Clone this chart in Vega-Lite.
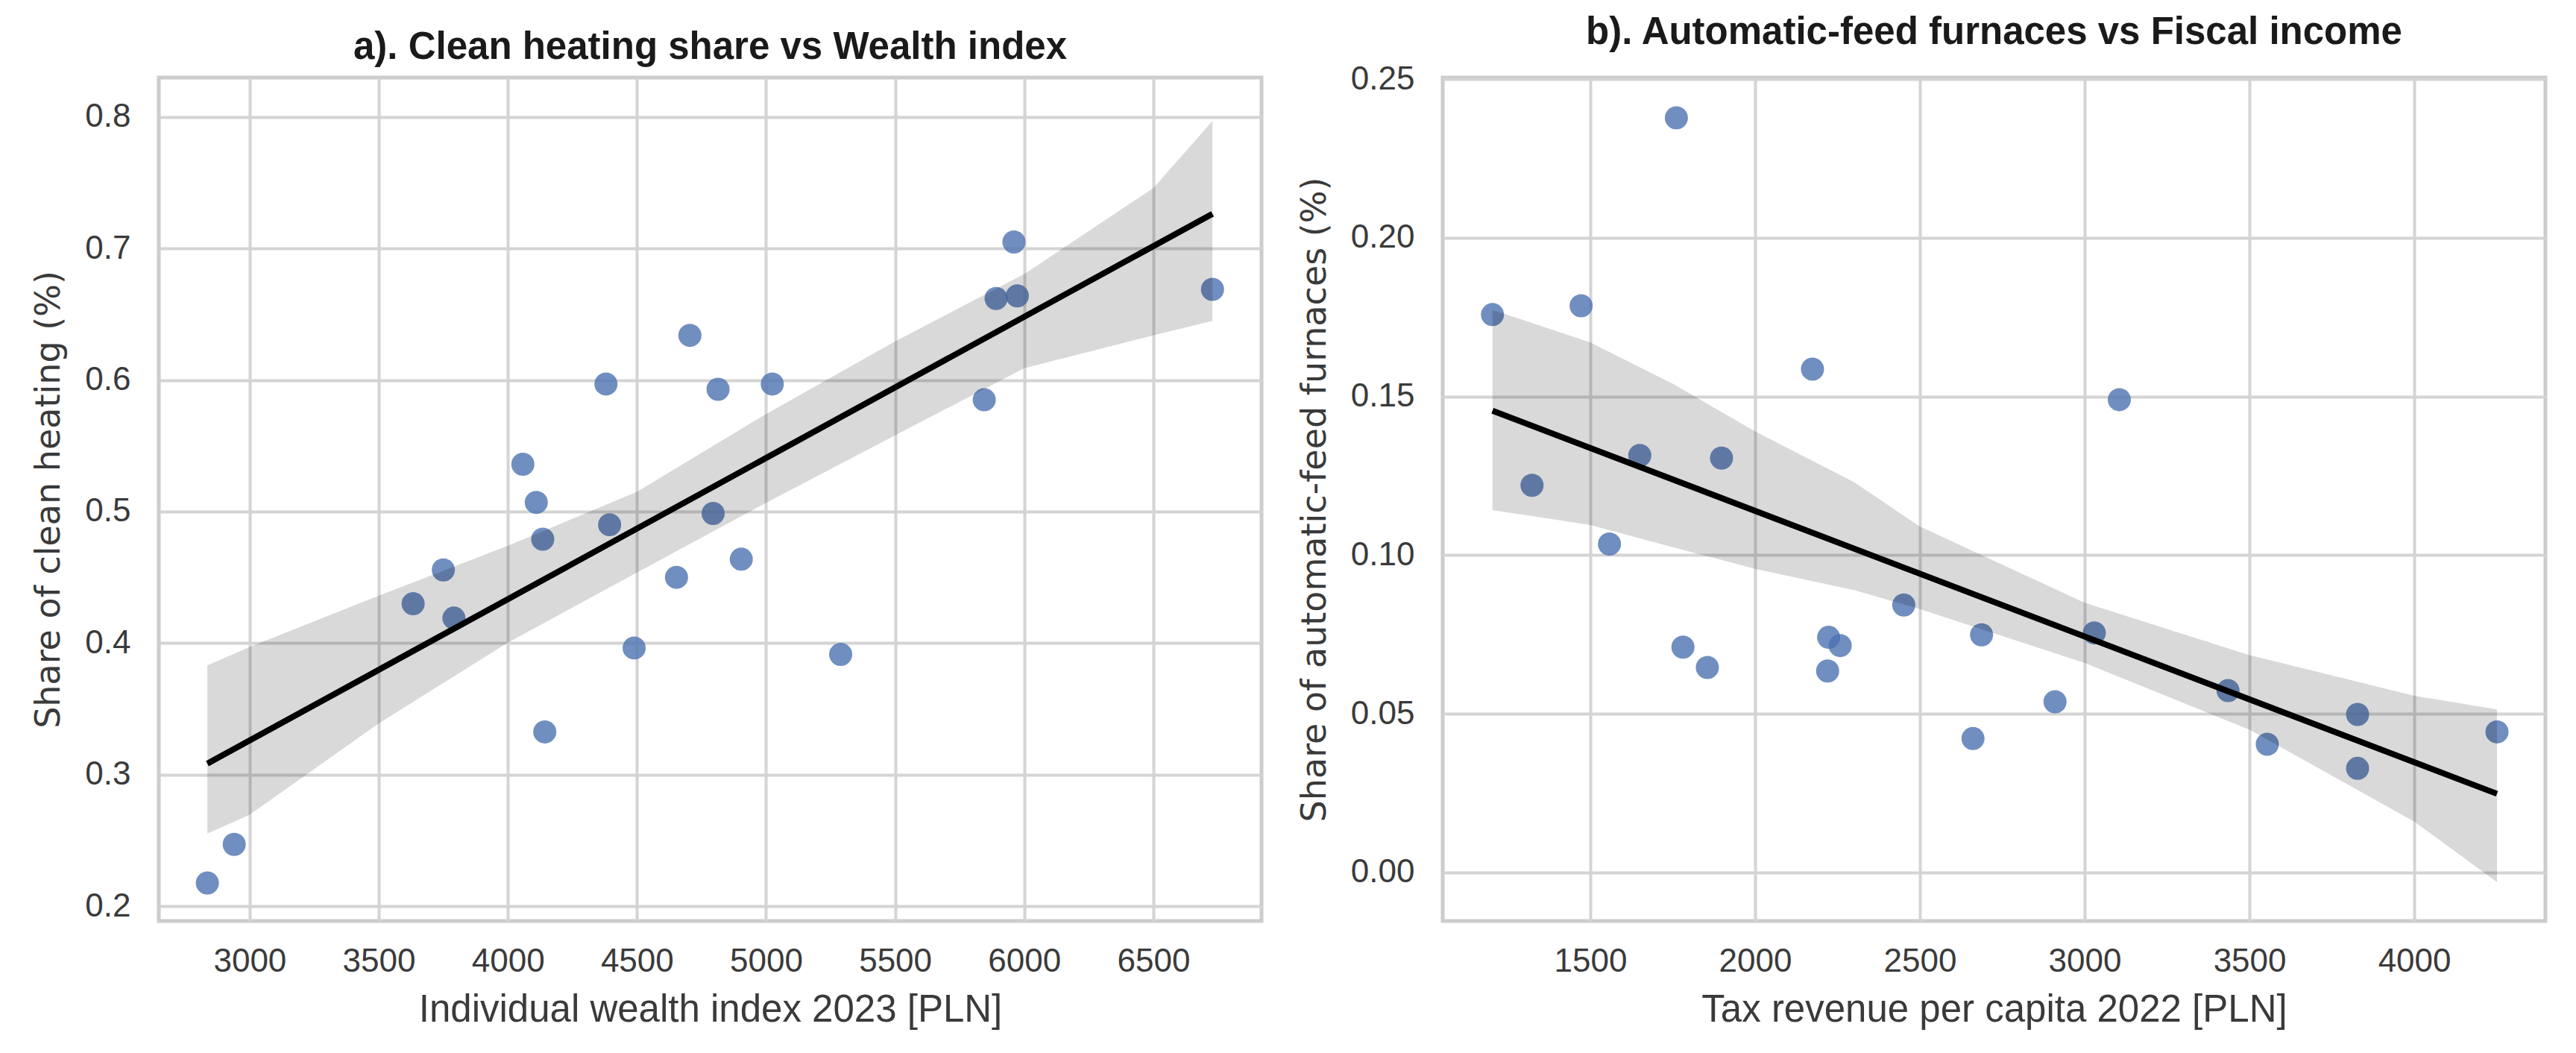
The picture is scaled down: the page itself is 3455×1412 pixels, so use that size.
{
  "$schema": "https://vega.github.io/schema/vega-lite/v6.json",
  "background": "white",
  "padding": {"left": 40, "top": 15, "right": 0, "bottom": 0},
  "spacing": 243,
  "bounds": "flush",
  "config": {
    "view": {"stroke": "#cccccc", "strokeWidth": 5},
    "axis": {"grid": true, "gridColor": "#d4d4d4", "gridWidth": 4, "domain": false, "ticks": false, "tickSize": 0, "labelFont": "Liberation Sans", "labelFontSize": 44, "labelColor": "#3a3a3a", "titleFontWeight": "normal", "titleColor": "#3a3a3a"},
    "axisX": {"labelPadding": 32, "titleFont": "Liberation Sans", "titleFontSize": 51, "titlePadding": 18},
    "axisY": {"labelPadding": 38, "titleFont": "DejaVu Sans", "titleFontSize": 46, "titlePadding": 24},
    "title": {"font": "Liberation Sans", "fontSize": 51, "fontWeight": "bold", "color": "#1a1a1a", "offset": 14}
  },
  "datasets": {
    "a_points": [
      {"x": 5960, "y": 0.705}, {"x": 5891, "y": 0.662}, {"x": 5973, "y": 0.664}, {"x": 6729, "y": 0.669},
      {"x": 4705, "y": 0.634}, {"x": 4380, "y": 0.597}, {"x": 4814, "y": 0.593}, {"x": 5024, "y": 0.597},
      {"x": 5845, "y": 0.585}, {"x": 4058, "y": 0.536}, {"x": 4110, "y": 0.507}, {"x": 4795, "y": 0.4986},
      {"x": 4394, "y": 0.490}, {"x": 4135, "y": 0.479}, {"x": 3750, "y": 0.4556}, {"x": 3633, "y": 0.430},
      {"x": 3791, "y": 0.419}, {"x": 4904, "y": 0.4638}, {"x": 4653, "y": 0.450}, {"x": 4489, "y": 0.3963},
      {"x": 5289, "y": 0.3914}, {"x": 4143, "y": 0.3325}, {"x": 2940, "y": 0.247}, {"x": 2836, "y": 0.2176}
    ],
    "a_fit": [{"x": 2836, "y": 0.3084}, {"x": 6729, "y": 0.7264}],
    "a_band": [
      {"x": 2836, "lo": 0.2552, "hi": 0.383},
      {"x": 3000, "lo": 0.2695, "hi": 0.3971},
      {"x": 3500, "lo": 0.339, "hi": 0.436},
      {"x": 4000, "lo": 0.4004, "hi": 0.474},
      {"x": 4500, "lo": 0.4536, "hi": 0.515},
      {"x": 5000, "lo": 0.5067, "hi": 0.5742},
      {"x": 5500, "lo": 0.558, "hi": 0.6294},
      {"x": 6000, "lo": 0.609, "hi": 0.6806},
      {"x": 6500, "lo": 0.634, "hi": 0.746},
      {"x": 6729, "lo": 0.645, "hi": 0.797}
    ],
    "b_points": [
      {"x": 1761, "y": 0.2378}, {"x": 1203, "y": 0.1758}, {"x": 1472, "y": 0.1786}, {"x": 2174, "y": 0.1586},
      {"x": 3105, "y": 0.149}, {"x": 1650, "y": 0.1314}, {"x": 1898, "y": 0.1306}, {"x": 1323, "y": 0.122},
      {"x": 1558, "y": 0.1035}, {"x": 2451, "y": 0.0843}, {"x": 1781, "y": 0.071}, {"x": 1855, "y": 0.0646},
      {"x": 2223, "y": 0.0741}, {"x": 2258, "y": 0.0715}, {"x": 2220, "y": 0.0635}, {"x": 2687, "y": 0.0749},
      {"x": 3029, "y": 0.0755}, {"x": 2910, "y": 0.0538}, {"x": 2661, "y": 0.0422}, {"x": 3435, "y": 0.0573},
      {"x": 3554, "y": 0.0404}, {"x": 3828, "y": 0.0498}, {"x": 3828, "y": 0.0328}, {"x": 4251, "y": 0.0443}
    ],
    "b_fit": [{"x": 1203, "y": 0.1455}, {"x": 4251, "y": 0.0248}],
    "b_band": [
      {"x": 1203, "lo": 0.1142, "hi": 0.1773},
      {"x": 1500, "lo": 0.1095, "hi": 0.167},
      {"x": 1750, "lo": 0.1025, "hi": 0.154},
      {"x": 2000, "lo": 0.0957, "hi": 0.139},
      {"x": 2300, "lo": 0.089, "hi": 0.123},
      {"x": 2500, "lo": 0.083, "hi": 0.109},
      {"x": 3000, "lo": 0.066, "hi": 0.085},
      {"x": 3500, "lo": 0.045, "hi": 0.0685},
      {"x": 4000, "lo": 0.016, "hi": 0.0557},
      {"x": 4251, "lo": -0.003, "hi": 0.0514}
    ]
  },
  "hconcat": [
    {
      "width": 1479,
      "height": 1131,
      "title": {"text": "a). Clean heating share vs Wealth index"},
      "layer": [
        {
          "data": {"name": "a_points"},
          "mark": {"type": "circle", "size": 960, "opacity": 0.8, "color": "#4C72B0"},
          "encoding": {
            "x": {"field": "x", "type": "quantitative", "title": "Individual wealth index 2023 [PLN]",
                  "scale": {"domain": [2648, 6919], "nice": false, "zero": false},
                  "axis": {"values": [3000, 3500, 4000, 4500, 5000, 5500, 6000, 6500], "format": "d"}},
            "y": {"field": "y", "type": "quantitative", "title": "Share of clean heating (%)",
                  "scale": {"domain": [0.1887, 0.830], "nice": false, "zero": false},
                  "axis": {"values": [0.2, 0.3, 0.4, 0.5, 0.6, 0.7, 0.8], "format": ".1f"}}
          }
        },
        {
          "data": {"name": "a_band"},
          "mark": {"type": "area", "color": "black", "opacity": 0.15},
          "encoding": {
            "x": {"field": "x", "type": "quantitative", "title": "Individual wealth index 2023 [PLN]"},
            "y": {"field": "lo", "type": "quantitative", "title": "Share of clean heating (%)"},
            "y2": {"field": "hi"}
          }
        },
        {
          "data": {"name": "a_fit"},
          "mark": {"type": "line", "color": "black", "strokeWidth": 8},
          "encoding": {
            "x": {"field": "x", "type": "quantitative", "title": "Individual wealth index 2023 [PLN]"},
            "y": {"field": "y", "type": "quantitative", "title": "Share of clean heating (%)"}
          }
        }
      ]
    },
    {
      "width": 1479,
      "height": 1131,
      "title": {"text": "b). Automatic-feed furnaces vs Fiscal income"},
      "layer": [
        {
          "data": {"name": "b_points"},
          "mark": {"type": "circle", "size": 960, "opacity": 0.8, "color": "#4C72B0"},
          "encoding": {
            "x": {"field": "x", "type": "quantitative", "title": "Tax revenue per capita 2022 [PLN]",
                  "scale": {"domain": [1052, 4398], "nice": false, "zero": false},
                  "axis": {"values": [1500, 2000, 2500, 3000, 3500, 4000], "format": "d"}},
            "y": {"field": "y", "type": "quantitative", "title": "Share of automatic-feed furnaces (%)",
                  "scale": {"domain": [-0.0153, 0.2505], "nice": false, "zero": false},
                  "axis": {"values": [0, 0.05, 0.1, 0.15, 0.2, 0.25], "format": ".2f"}}
          }
        },
        {
          "data": {"name": "b_band"},
          "mark": {"type": "area", "color": "black", "opacity": 0.15},
          "encoding": {
            "x": {"field": "x", "type": "quantitative", "title": "Tax revenue per capita 2022 [PLN]"},
            "y": {"field": "lo", "type": "quantitative", "title": "Share of automatic-feed furnaces (%)"},
            "y2": {"field": "hi"}
          }
        },
        {
          "data": {"name": "b_fit"},
          "mark": {"type": "line", "color": "black", "strokeWidth": 8},
          "encoding": {
            "x": {"field": "x", "type": "quantitative", "title": "Tax revenue per capita 2022 [PLN]"},
            "y": {"field": "y", "type": "quantitative", "title": "Share of automatic-feed furnaces (%)"}
          }
        }
      ]
    }
  ]
}
